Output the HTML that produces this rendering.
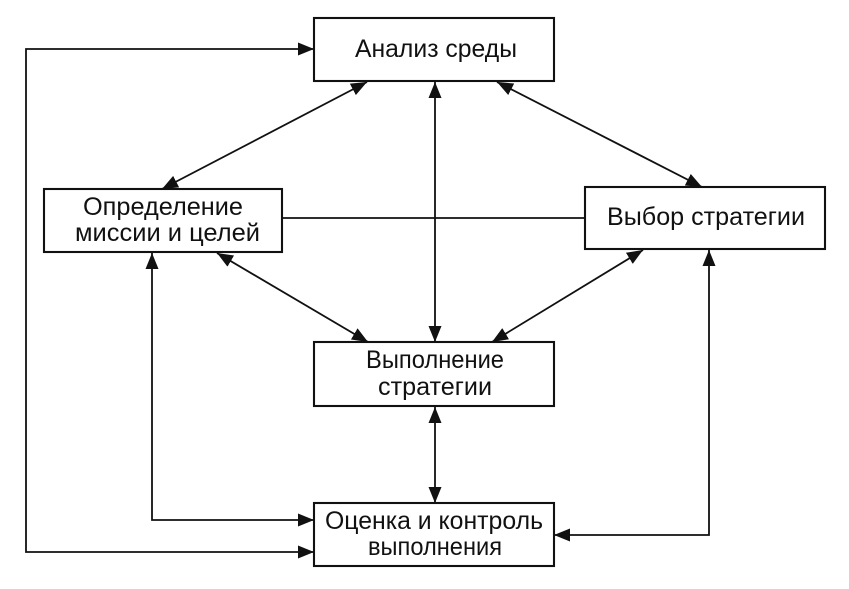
<!DOCTYPE html>
<html>
<head>
<meta charset="utf-8">
<style>
  html, body { margin: 0; padding: 0; background: #fff; }
  svg { display: block; }
  text { font-family: "Liberation Sans", "DejaVu Sans", sans-serif; font-size: 25px; fill: #111; }
</style>
</head>
<body>
<svg width="849" height="589" viewBox="0 0 849 589" xmlns="http://www.w3.org/2000/svg">
  <defs>
    <marker id="ah" markerUnits="userSpaceOnUse" markerWidth="17" markerHeight="14" refX="16" refY="6.5" orient="auto-start-reverse">
      <path d="M0,0 L16,6.5 L0,13 z" fill="#111"/>
    </marker>
  </defs>
  <rect x="0" y="0" width="849" height="589" fill="#fff"/>

  <g fill="none" stroke="#111" stroke-width="1.8">
    <!-- Boxes -->
    <rect x="314" y="18" width="240" height="63" stroke-width="2.1"/>
    <rect x="44" y="189" width="238" height="63" stroke-width="2.1"/>
    <rect x="585" y="187" width="240" height="62" stroke-width="2.1"/>
    <rect x="314" y="342" width="240" height="64" stroke-width="2.1"/>
    <rect x="314" y="503" width="240" height="63" stroke-width="2.1"/>

    <!-- horizontal connector between Определение and Выбор -->
    <line x1="282" y1="218" x2="585" y2="218"/>

    <!-- diagonals (double-headed) -->
    <line x1="367" y1="82" x2="162" y2="189" marker-start="url(#ah)" marker-end="url(#ah)"/>
    <line x1="497" y1="82" x2="702" y2="187" marker-start="url(#ah)" marker-end="url(#ah)"/>
    <line x1="217" y1="253" x2="368" y2="342" marker-start="url(#ah)" marker-end="url(#ah)"/>
    <line x1="643" y1="250" x2="492" y2="342" marker-start="url(#ah)" marker-end="url(#ah)"/>

    <!-- verticals center -->
    <line x1="435" y1="82" x2="435" y2="342" marker-start="url(#ah)" marker-end="url(#ah)"/>
    <line x1="435" y1="407" x2="435" y2="503" marker-start="url(#ah)" marker-end="url(#ah)"/>

    <!-- outer left feedback -->
    <path d="M314,49 H26 V552 H314" marker-start="url(#ah)" marker-end="url(#ah)"/>
    <!-- inner left -->
    <path d="M152,253 V520 H314" marker-start="url(#ah)" marker-end="url(#ah)"/>
    <!-- right -->
    <path d="M709,250 V535 H554" marker-start="url(#ah)" marker-end="url(#ah)"/>
  </g>

  <!-- Labels -->
  <text x="355" y="57" textLength="162" lengthAdjust="spacingAndGlyphs">Анализ среды</text>
  <text x="83" y="215" textLength="160" lengthAdjust="spacingAndGlyphs">Определение</text>
  <text x="75" y="241" textLength="185" lengthAdjust="spacingAndGlyphs">миссии и целей</text>
  <text x="607" y="225" textLength="198" lengthAdjust="spacingAndGlyphs">Выбор стратегии</text>
  <text x="366" y="368" textLength="138" lengthAdjust="spacingAndGlyphs">Выполнение</text>
  <text x="378" y="395" textLength="114" lengthAdjust="spacingAndGlyphs">стратегии</text>
  <text x="325" y="529" textLength="218" lengthAdjust="spacingAndGlyphs">Оценка и контроль</text>
  <text x="368" y="555" textLength="134" lengthAdjust="spacingAndGlyphs">выполнения</text>
</svg>
</body>
</html>
